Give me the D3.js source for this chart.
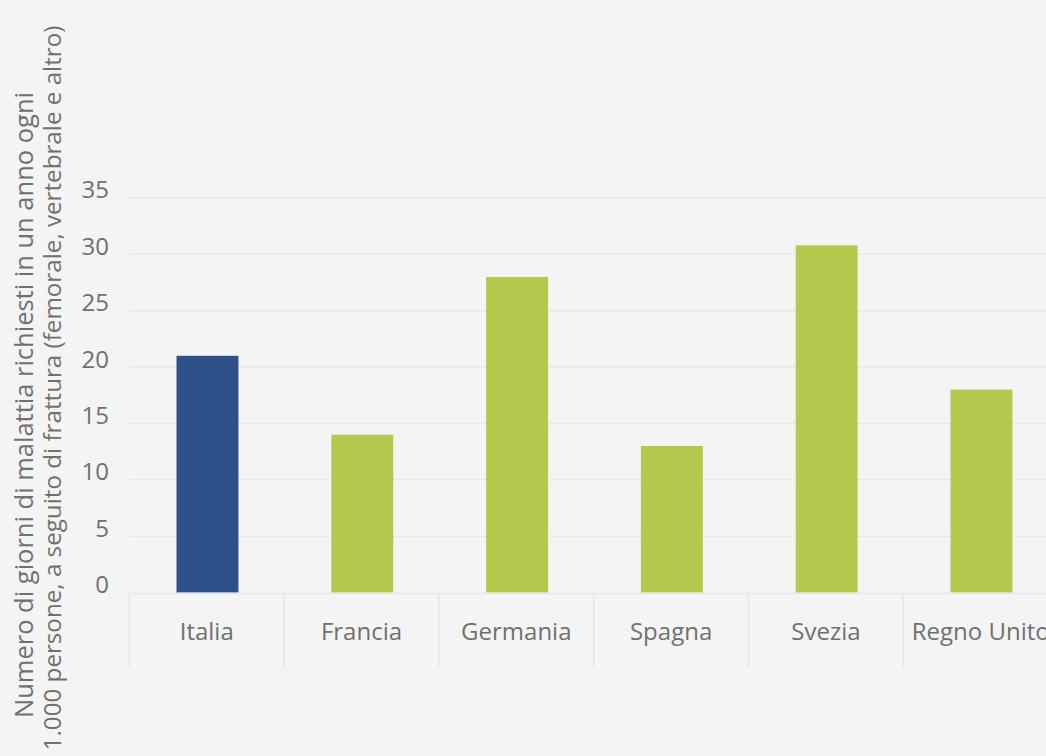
<!DOCTYPE html>
<html>
<head>
<meta charset="utf-8">
<script src="https://d3js.org/d3.v7.min.js"></script>
<style>
  body { margin: 0; background: #f4f4f4; }
  svg { display: block; font-family: "Open Sans", sans-serif; }
</style>
</head>
<body>
<svg width="1046" height="756"></svg>
<script>
var countries = ["Italia", "Francia", "Germania", "Spagna", "Svezia", "Regno Unito"];
var giorni = [21, 14, 28, 13, 30.8, 18];
var yTicks = [0, 5, 10, 15, 20, 25, 30, 35];
var titleLines = [
    "Numero di giorni di malattia richiesti in un anno ogni",
    "1.000 persone, a seguito di frattura (femorale, vertebrale e altro)"
];

var svg = d3.select("svg");
var width = +svg.attr("width"),
    height = +svg.attr("height");

svg.append("rect").attr("width", width).attr("height", height).attr("fill", "#f4f4f4");

var left = 129.3, bandW = 154.8;

var x = d3.scaleBand()
    .domain(countries)
    .range([left, left + bandW * countries.length])
    .paddingInner(0).paddingOuter(0);

var y = d3.scaleLinear()
    .domain([0, 35])
    .range([592.5, 198]);

// gridlines
svg.append("g").attr("class", "grid")
    .selectAll("line")
    .data(yTicks.filter(function (d) { return d > 0; })).enter()
    .append("line")
    .attr("x1", left).attr("x2", width)
    .attr("y1", function (d) { return y(d); })
    .attr("y2", function (d) { return y(d); })
    .attr("stroke", "#e8e8e8")
    .attr("stroke-width", 1.5);

// y tick labels
svg.append("g").attr("class", "y-axis")
    .selectAll("text")
    .data(yTicks).enter()
    .append("text")
    .attr("x", 109)
    .attr("y", function (d) { return y(d); })
    .attr("dy", "0.02em")
    .attr("text-anchor", "end")
    .attr("fill", "#707070")
    .style("font-size", "24px")
    .text(function (d) { return d; });

// bars
svg.append("g").attr("class", "bars")
    .selectAll("rect")
    .data(countries).enter()
    .append("rect")
    .attr("x", function (d) { return x(d) + x.bandwidth() * 0.305; })
    .attr("width", x.bandwidth() * 0.4)
    .attr("y", function (d, i) { return y(giorni[i]); })
    .attr("height", function (d, i) { return y(0) - y(giorni[i]); })
    .attr("fill", function (d, i) { return i === 0 ? "#2d5089" : "#b3ca4f"; });

// category cells
var xAxis = svg.append("g").attr("class", "x-axis");
xAxis.append("line")
    .attr("x1", left).attr("x2", width)
    .attr("y1", 593.5).attr("y2", 593.5)
    .attr("stroke", "#e6e6e6").attr("stroke-width", 1.5);
xAxis.selectAll("line.sep")
    .data(countries).enter()
    .append("line").attr("class", "sep")
    .attr("x1", function (d) { return x(d); })
    .attr("x2", function (d) { return x(d); })
    .attr("y1", 593).attr("y2", 667)
    .attr("stroke", "#e6e6e6").attr("stroke-width", 1.5);
xAxis.selectAll("text")
    .data(countries).enter()
    .append("text")
    .attr("x", function (d) { return x(d) + x.bandwidth() / 2; })
    .attr("y", 640)
    .attr("text-anchor", "middle")
    .attr("fill", "#707070")
    .style("font-size", "24px")
    .text(function (d) { return d; });

// y title, two lines
svg.append("g").attr("class", "y-title")
    .selectAll("text")
    .data(titleLines).enter()
    .append("text")
    .attr("transform", function (d, i) {
        return i === 0 ? "translate(33,405) rotate(-90)" : "translate(61,388) rotate(-90)";
    })
    .attr("text-anchor", "middle")
    .attr("fill", "#707070")
    .style("font-size", function (d, i) { return i === 0 ? "25.5px" : "24.2px"; })
    .text(function (d) { return d; });
</script>
</body>
</html>
